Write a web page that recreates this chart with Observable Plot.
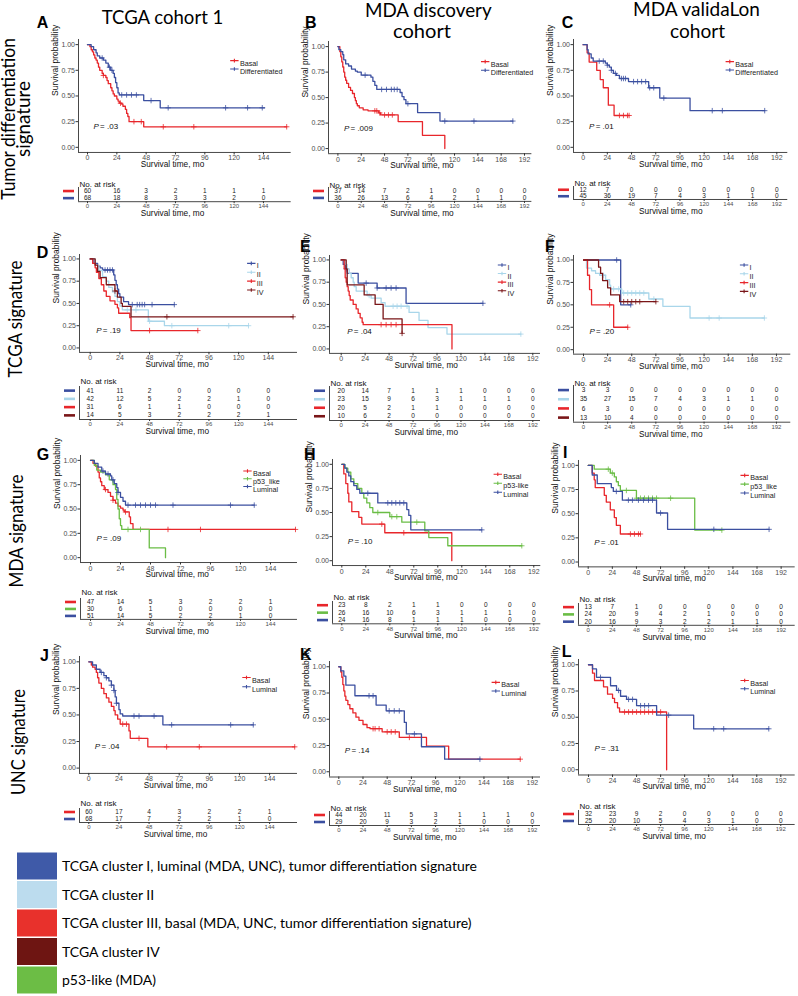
<!DOCTYPE html>
<html><head><meta charset="utf-8">
<script src="https://cdn.jsdelivr.net/npm/d3@7"></script>
<script src="https://cdn.jsdelivr.net/npm/@observablehq/plot@0.6"></script>
<style>
body{margin:0;background:#fff}
#root{position:relative;width:798px;height:996px;overflow:hidden;background:#fff}
#root svg{position:absolute}
</style></head><body><div id="root"></div>
<script>
// ---------- colours ----------
const BLUE="#3b4fa0", LBLUE="#a9d6ea", RED="#e8262b", DRED="#7a1618", GREEN="#6abd45";
const AX="#333", TX="#4d4d4d";
const FONT="'Liberation Sans', Arial, sans-serif";

// ---------- data: KM step curves [time, survival] and censor times ----------
const A_basal=[[0,1],[2,.98],[3,.95],[4,.93],[5,.90],[6,.87],[7,.85],[8,.82],[9,.78],[10,.75],[12,.72],[13,.70],[15,.68],[16,.65],[17,.62],[19,.58],[20,.55],[21,.52],[22,.50],[24,.47],[25,.45],[26,.43],[28,.42],[29,.40],[31,.37],[32,.33],[33,.30],[34,.25],[46,.20],[163,.20]];
const A_basal_cens=[13,27,38,44,62,87,163];
const A_diff=[[0,1],[3,.98],[5,.95],[7,.92],[8,.89],[10,.87],[13,.85],[15,.82],[17,.78],[19,.75],[21,.72],[22,.68],[23,.63],[24,.58],[25,.53],[26,.51],[46,.455],[59.5,.385],[145,.385]];
const A_diff_cens=[12,18,20,28,32,36,40,52,66,113,131,143];

const B_basal=[[0,1],[2,.95],[3,.90],[4,.85],[5,.80],[6,.75],[7,.70],[8,.67],[9,.64],[11,.60],[13,.57],[15,.54],[17,.50],[18,.47],[19,.44],[20,.42],[22,.40],[26,.38],[31,.37],[42,.35],[44,.33],[62,.265],[87,.13],[110,0]];
const B_basal_cens=[38,40,43,48,52,56];
const B_diff=[[0,1],[1,.97],[3,.95],[5,.92],[6,.87],[8,.83],[11,.81],[14,.78],[18,.76],[20,.75],[24,.72],[34,.70],[36,.66],[38,.62],[40,.58],[64,.55],[66,.51],[68,.48],[70,.44],[82,.353],[105,.27],[180,.27]];
const B_diff_cens=[28,45,50,55,58,61,72,110,140,180];

const C_basal=[[0,1],[4,.92],[6,.83],[13.5,.75],[17,.66],[20,.58],[25,.41],[30.7,.31],[45.6,.31]];
const C_basal_cens=[36,40,44,45.6];
const C_diff=[[0,1],[4,.95],[5,.91],[8,.87],[10,.84],[22,.82],[24,.80],[26,.78],[28,.75],[30,.72],[33,.70],[36,.67],[45,.64],[65,.58],[76,.48],[106,.357],[180,.357]];
const C_diff_cens=[16,20,24,28,32,38,40,42,50,54,58,62,66,70,80,128,138,180];

const D_I=[[0,1],[3,.95],[6,.92],[8,.90],[10,.876],[19,.82],[20,.76],[21,.71],[22,.66],[23,.61],[24,.57],[27,.52],[31,.487],[68,.487]];
const D_I_cens=[12,14,16,18,34,38,40,42,44,50,68];
const D_II=[[0,1],[4,.93],[7,.87],[10,.80],[13,.75],[15,.68],[18,.63],[20,.58],[22,.52],[24,.47],[26,.427],[47,.30],[60,.25],[128,.25]];
const D_II_cens=[30,37,48,66,112,128];
const D_III=[[0,1],[2,.95],[4,.90],[5,.85],[7,.78],[9,.71],[11,.64],[13,.58],[16,.53],[20,.49],[22,.45],[23,.39],[32,.34],[33,.195],[87,.195]];
const D_III_cens=[48,87];
const D_IV=[[0,1],[4,.93],[6,.86],[8,.79],[13,.71],[20,.64],[22,.57],[25,.50],[26,.468],[33,.35],[164,.35]];
const D_IV_cens=[20,62,164];

const E_I=[[0,1],[2,.95],[4,.90],[6,.85],[17,.74],[36,.685],[65,.513],[142,.513]];
const E_I_cens=[5,25,36,45,50,55,142];
const E_II=[[0,1],[4,.95],[6,.90],[8,.85],[10,.80],[12,.75],[13,.70],[15,.65],[26,.60],[30,.57],[40,.52],[44,.48],[68,.41],[78,.32],[87,.24],[106,.167],[180,.167]];
const E_II_cens=[28,52,56,60,66,180];
const E_III=[[0,1],[3,.90],[4,.80],[5,.75],[6,.70],[7,.65],[8,.60],[9,.55],[12,.50],[15,.45],[17,.40],[19,.35],[21,.30],[22,.273],[111,0]];
const E_III_cens=[40,45,50,55];
const E_IV=[[0,1],[5,.90],[6,.72],[23,.607],[34,.50],[42,.337],[61,.175]];
const E_IV_cens=[61];

const F_I=[[0,1],[37,.50],[47,.50]];
const F_I_cens=[33,47];
const F_II=[[0,1],[3,.91],[8,.88],[12,.85],[16,.83],[22,.78],[26,.72],[27,.677],[38,.632],[65,.565],[79,.483],[106,.353],[180,.353]];
const F_II_cens=[20,30,35,40,44,48,52,56,60,70,125,135,180];
const F_III=[[0,1],[4,.83],[6,.67],[8,.50],[30,.25],[44,.25]];
const F_III_cens=[26,44];
const F_IV=[[0,1],[15,.92],[17,.85],[19,.77],[24,.69],[27,.61],[36,.535],[72,.535]];
const F_IV_cens=[40,44,48,52,56,72];

const G_basal=[[0,1],[2,.97],[4,.94],[6,.88],[7,.82],[8,.78],[9,.74],[11,.70],[14,.67],[16,.63],[18,.59],[20,.56],[22,.53],[24,.51],[26,.49],[27,.47],[31,.42],[32,.35],[34,.29],[164,.29]];
const G_basal_cens=[12,18,28,62,88,164];
const G_p53=[[0,1],[3,.95],[5,.90],[8,.88],[12,.85],[15,.80],[18,.75],[20,.70],[21,.60],[22,.50],[23,.40],[24,.33],[25,.29],[47,.10],[60,0]];
const G_p53_cens=[30,40];
const G_lum=[[0,1],[3,.97],[6,.93],[9,.89],[12,.86],[16,.84],[17,.80],[19,.76],[21,.72],[22,.67],[24,.62],[26,.58],[28,.54],[131,.54]];
const G_lum_cens=[10,14,18,22,30,36,40,44,48,52,66,112,131];

const H_basal=[[0,1],[2,.90],[4,.80],[6,.70],[7,.61],[10,.51],[17,.45],[20,.38],[43,.29],[110,0]];
const H_basal_cens=[40,62];
const H_p53=[[0,1],[3,.96],[6,.92],[9,.85],[12,.80],[16,.75],[20,.70],[22,.65],[25,.60],[28,.55],[31,.50],[48,.457],[60,.40],[83,.31],[87,.24],[106,.155],[180,.155]];
const H_p53_cens=[36,50,55,75,180];
const H_lum=[[0,1],[3,.96],[5,.92],[7,.88],[9,.82],[12,.78],[15,.74],[18,.70],[36,.60],[65,.53],[67,.47],[69,.32],[140,.32]];
const H_lum_cens=[26,46,50,54,58,62,140];

const I_basal=[[0,1],[4,.92],[6,.85],[7,.77],[16,.69],[18,.62],[22,.54],[26,.46],[28,.38],[32,.29],[52,.29]];
const I_basal_cens=[42,46,50,52];
const I_p53=[[0,1],[6,.96],[22,.92],[26,.88],[28,.83],[30,.79],[32,.74],[48,.66],[106,.33],[133,.33]];
const I_p53_cens=[20,24,38,48,52,56,60,64,68,82,133];
const I_lum=[[0,1],[4,.90],[9,.81],[23,.77],[25,.73],[34,.64],[68,.507],[79,.338],[180,.338]];
const I_lum_cens=[28,40,44,50,55,60,64,72,125,180];

const J_basal=[[0,1],[2,.97],[3,.95],[5,.93],[6,.90],[7,.85],[8,.80],[10,.75],[12,.70],[14,.66],[16,.62],[18,.58],[20,.54],[21,.50],[23,.46],[25,.414],[32,.35],[33,.28],[47,.20],[164,.20]];
const J_basal_cens=[27,30,40,62,88,164];
const J_lum=[[0,1],[3,.97],[6,.93],[9,.90],[12,.87],[14,.85],[16,.82],[18,.78],[20,.73],[21,.67],[22,.61],[24,.55],[25,.51],[27,.49],[59,.407],[131,.407]];
const J_lum_cens=[10,14,18,20,22,36,40,52,66,113,131];

const K_basal=[[0,1],[2,.95],[3,.90],[4,.83],[5,.77],[6,.72],[7,.68],[9,.64],[11,.60],[14,.56],[17,.52],[20,.49],[24,.45],[28,.42],[31,.41],[43,.38],[60,.327],[87,.245],[109,.12],[180,.12]];
const K_basal_cens=[34,36,40,48,52,56,70,180];
const K_lum=[[0,1],[2,.96],[5,.91],[7,.825],[16,.724],[37,.635],[47,.58],[65,.47],[67,.36],[82,.238],[105,.12],[140,.12]];
const K_lum_cens=[30,34,50,55,60,75,140];

const L_basal=[[0,1],[4,.92],[6,.85],[15,.79],[19,.72],[24,.68],[26,.64],[29,.59],[31,.55],[78,0]];
const L_basal_cens=[36,40,44,48,52,56,60,64,68,72];
const L_lum=[[0,1],[4,.96],[8,.88],[22,.80],[28,.755],[32,.70],[38,.67],[48,.61],[68,.52],[105,.39],[180,.39]];
const L_lum_cens=[12,30,40,44,52,56,60,80,125,135,180];

// ---------- risk tables ----------
const A_risk=[[60,16,3,2,1,1,1],[68,18,8,3,3,2,0]];
const B_risk=[[37,14,7,2,1,0,0,0,0],[36,26,13,6,4,2,1,1,0]];
const C_risk=[[12,7,0,0,0,0,0,0,0],[45,36,19,7,4,3,1,1,0]];
const D_risk=[[41,11,2,0,0,0,0],[42,12,5,2,2,1,0],[31,6,1,1,0,0,0],[14,5,3,2,2,2,1]];
const E_risk=[[20,14,7,1,1,1,0,0,0],[23,15,9,6,3,1,1,1,0],[20,5,2,1,1,0,0,0,0],[10,6,2,0,0,0,0,0,0]];
const F_risk=[[3,3,0,0,0,0,0,0,0],[35,27,15,7,4,3,1,1,0],[6,3,0,0,0,0,0,0,0],[13,10,4,0,0,0,0,0,0]];
const G_risk=[[47,14,5,3,2,2,1],[30,6,1,0,0,0,0],[51,14,5,2,2,1,0]];
const H_risk=[[23,8,2,1,1,0,0,0,0],[26,16,10,6,3,1,1,1,0],[24,16,8,1,1,1,0,0,0]];
const I_risk=[[13,7,1,0,0,0,0,0,0],[24,20,9,4,2,1,0,0,0],[20,16,9,3,2,2,1,1,0]];
const J_risk=[[60,17,4,3,2,2,1],[68,17,7,2,2,1,0]];
const K_risk=[[44,20,11,5,3,1,1,1,0],[29,20,9,3,2,1,0,0,0]];
const L_risk=[[32,23,9,2,0,0,0,0,0],[25,20,10,5,4,3,1,0,0]];

// ---------- labels ----------
const pvals={A:".03",B:".009",C:".01",D:".19",E:".04",F:".20",G:".09",H:".10",I:".01",J:".04",K:".14",L:".31"};
const colTitles=[["TCGA cohort 1"],["MDA discovery","cohort"],["MDA validaLon","cohort"]];
const rowTitles=[["Tumor differentiation","signature"],["TCGA signature"],["MDA signature"],["UNC signature"]];
const legendItems=["TCGA cluster I, luminal (MDA, UNC), tumor differentiation signature","TCGA cluster II","TCGA cluster III, basal (MDA, UNC, tumor differentiation signature)","TCGA cluster IV","p53-like (MDA)"];
const legendColors=["#3f5aa8","#bcdcee","#e8312c","#6e1512","#6cbd45"];
const Y_TICKS=[0,0.25,0.5,0.75,1];

// ---------- layout (pixel geometry of each panel) ----------
const P=[
 {id:"A",L:78.3,x0:87.3,k:1.2222,yTop:44,yBot:146.7,R:291,tmax:144,titleX:172.3,
  curves:[["Basal",A_basal,A_basal_cens,RED],["Differentiated",A_diff,A_diff_cens,BLUE]],
  leg:{x:234.2,y:60,s:8.3}, tab:{top:186.5,bot:200.7,nr:180,risk:A_risk}, letter:[36.7,28.3]},
 {id:"B",L:328.3,x0:337.7,k:0.972,yTop:45.7,yBot:147.7,R:531.7,tmax:192,titleX:421.7,
  curves:[["Basal",B_basal,B_basal_cens,RED],["Differentiated",B_diff,B_diff_cens,BLUE]],
  leg:{x:485,y:60.7,s:8.6}, tab:{top:186.6,bot:200.5,nr:181.7,risk:B_risk}, letter:[305,28.3]},
 {id:"C",L:572.7,x0:582.3,k:1.009,yTop:44,yBot:146.7,R:787,tmax:192,titleX:670,
  curves:[["Basal",C_basal,C_basal_cens,RED],["Differentiated",C_diff,C_diff_cens,BLUE]],
  leg:{x:729,y:61,s:8.3}, tab:{top:186,bot:199,nr:180,risk:C_risk}, letter:[561.7,28.3]},
 {id:"D",L:79,x0:89.7,k:1.237,yTop:258.3,yBot:347.3,R:297,tmax:144,titleX:176.7,
  curves:[["I",D_I,D_I_cens,BLUE],["II",D_II,D_II_cens,LBLUE],["III",D_III,D_III_cens,RED],["IV",D_IV,D_IV_cens,DRED]],
  leg:{x:250.8,y:262.7,s:8.9}, tab:{top:386,bot:419,nr:378.3,risk:D_risk}, letter:[36.7,258.3]},
 {id:"E",L:329,x0:340.7,k:0.998,yTop:259.3,yBot:348.3,R:540,tmax:192,titleX:425.7,
  curves:[["I",E_I,E_I_cens,BLUE],["II",E_II,E_II_cens,LBLUE],["III",E_III,E_III_cens,RED],["IV",E_IV,E_IV_cens,DRED]],
  leg:{x:501.5,y:264.3,s:8.6}, tab:{top:386,bot:420,nr:380,risk:E_risk}, letter:[300,251.7]},
 {id:"F",L:572.7,x0:582.7,k:1.005,yTop:259.3,yBot:349,R:790,tmax:192,titleX:670,
  curves:[["I",F_I,F_I_cens,BLUE],["II",F_II,F_II_cens,LBLUE],["III",F_III,F_III_cens,RED],["IV",F_IV,F_IV_cens,DRED]],
  leg:{x:743.3,y:264.3,s:8.8}, tab:{top:385,bot:421.7,nr:380,risk:F_risk}, letter:[545,251.7]},
 {id:"G",L:80,x0:90,k:1.25,yTop:460,yBot:557.3,R:297,tmax:144,titleX:176.7,
  curves:[["Basal",G_basal,G_basal_cens,RED],["p53_like",G_p53,G_p53_cens,GREEN],["Luminal",G_lum,G_lum_cens,BLUE]],
  leg:{x:247,y:470.7,s:7.7}, tab:{top:598.4,bot:619.3,nr:589,risk:G_risk}, letter:[36.7,460]},
 {id:"H",L:331.7,x0:341,k:1.0,yTop:464.3,yBot:560.7,R:540,tmax:192,titleX:425,
  curves:[["Basal",H_basal,H_basal_cens,RED],["p53-like",H_p53,H_p53_cens,GREEN],["Luminal",H_lum,H_lum_cens,BLUE]],
  leg:{x:497,y:474.3,s:9}, tab:{top:601.2,bot:623.5,nr:594,risk:H_risk}, letter:[304,460]},
 {id:"I",L:578.3,x0:588,k:1.005,yTop:465,yBot:561.7,R:795,tmax:192,titleX:674,
  curves:[["Basal",I_basal,I_basal_cens,RED],["p53_like",I_p53,I_p53_cens,GREEN],["Luminal",I_lum,I_lum_cens,BLUE]],
  leg:{x:744.5,y:475,s:8.8}, tab:{top:602.5,bot:624.3,nr:595,risk:I_risk}, letter:[563,458]},
 {id:"J",L:79,x0:88.3,k:1.2556,yTop:661,yBot:767.3,R:297,tmax:144,titleX:175,
  curves:[["Basal",J_basal,J_basal_cens,RED],["Luminal",J_lum,J_lum_cens,BLUE]],
  leg:{x:246,y:676.7,s:9.3}, tab:{top:808,bot:822,nr:800,risk:J_risk}, letter:[40,661]},
 {id:"K",L:329,x0:338.3,k:1.008,yTop:666.7,yBot:771.7,R:540,tmax:192,titleX:424.3,
  curves:[["Basal",K_basal,K_basal_cens,RED],["Luminal",K_lum,K_lum_cens,BLUE]],
  leg:{x:495.3,y:682.3,s:8.7}, tab:{top:811,bot:825,nr:805,risk:K_risk}, letter:[300,660]},
 {id:"L",L:578.3,x0:588.3,k:1.0017,yTop:664.3,yBot:769.3,R:795,tmax:192,titleX:674,
  curves:[["Basal",L_basal,L_basal_cens,RED],["Luminal",L_lum,L_lum_cens,BLUE]],
  leg:{x:744.5,y:680,s:8.3}, tab:{top:810,bot:824,nr:803,risk:L_risk}, letter:[561.7,656.7]}
];

const root=document.getElementById("root");
function survAt(curve,t){let s=1;for(const [ti,si] of curve){if(ti<=t)s=si;else break;}return s;}
const LEG_SYM={draw(c){c.moveTo(-4.2,0);c.lineTo(4.2,0);c.moveTo(0,-1.8);c.lineTo(0,1.8);}};
const BAR_SYM={draw(c){c.rect(-5.5,-1.3,11,2.6);}};
const ML=64,MR=8;
function place(svg,left,top){svg.style.left=left+"px";svg.style.top=top+"px";root.appendChild(svg);}

function kmPlot(p){
  const MT=8,MB=24;
  const u=p.yBot-p.yTop, fTop=p.yTop-0.05*u, fBot=p.yBot+0.05*u;
  const xlo=(p.L-p.x0)/p.k, xhi=(p.R-p.x0)/p.k;
  const ticks=d3.range(0,p.tmax+1,24);
  const marks=[
    Plot.ruleX([xlo],{y1:-0.05,y2:1.05,stroke:AX,strokeWidth:0.9}),
    Plot.ruleY([-0.05],{x1:xlo,x2:xhi,stroke:AX,strokeWidth:0.9}),
    Plot.axisY({ticks:Y_TICKS,tickFormat:d3.format(".2f"),tickSize:2.5,tickPadding:1,fontSize:7,label:null,stroke:AX,fill:TX}),
    Plot.axisX({ticks,tickSize:2.5,tickPadding:0.5,fontSize:7,label:null,stroke:AX,fill:TX}),
    Plot.text(["Survival probability"],{frameAnchor:"left",rotate:-90,dx:-23.3,fontSize:8.5,fill:"#111"}),
    Plot.text(["Survival time, mo"],{frameAnchor:"bottom",dx:p.titleX-(p.L+p.R)/2,dy:14.5,fontSize:8.3,fill:"#111"}),
    Plot.text(["P"],{x:0,y:0.2,dx:6,textAnchor:"start",fontStyle:"italic",fontSize:8,fill:"#111"}),
    Plot.text(["= "+pvals[p.id]],{x:0,y:0.2,dx:12.6,textAnchor:"start",fontSize:8,fill:"#111"})
  ];
  for(const [name,data,cens,col] of p.curves){
    marks.push(Plot.line(data,{x:d=>d[0],y:d=>d[1],curve:"step-after",stroke:col,strokeWidth:1.3}));
    marks.push(Plot.dot(cens,{x:d=>d,y:d=>survAt(data,d),symbol:"plus",stroke:col,strokeWidth:0.8,r:1.9}));
  }
  p.curves.forEach(([name,,,col],i)=>{
    const dy=p.leg.y+i*p.leg.s-fTop;
    marks.push(Plot.dot([name],{frameAnchor:"top-left",dx:p.leg.x-p.L,dy,symbol:LEG_SYM,stroke:col,fill:"none",strokeWidth:1.1}));
    marks.push(Plot.text([name],{frameAnchor:"top-left",dx:p.leg.x-p.L+5.5,dy,textAnchor:"start",fontSize:7.2,fill:"#222"}));
  });
  const svg=Plot.plot({width:ML+(p.R-p.L)+MR,height:MT+(fBot-fTop)+MB,marginLeft:ML,marginRight:MR,marginTop:MT,marginBottom:MB,
    x:{domain:[xlo,xhi]},y:{domain:[-0.05,1.05]},
    style:{background:"transparent",fontFamily:FONT,overflow:"visible"},marks});
  place(svg,p.L-ML,fTop-MT);
}

function riskTable(p){
  const t=p.tab, n=t.risk.length, MT=16, MB=22;
  const xlo=(p.L-p.x0)/p.k, xhi=(p.R-p.x0)/p.k;
  const ticks=d3.range(0,p.tmax+1,24);
  const cells=[];
  t.risk.forEach((row,i)=>row.forEach((v,j)=>cells.push({x:ticks[j],y:i,v})));
  const marks=[
    Plot.ruleX([xlo],{y1:-0.5,y2:n-0.5,stroke:AX,strokeWidth:0.9}),
    Plot.ruleY([n-0.5],{x1:xlo,x2:xhi,stroke:AX,strokeWidth:0.9}),
    Plot.axisX({ticks,tickSize:2,tickPadding:0.5,fontSize:6,label:null,stroke:AX,fill:TX}),
    Plot.text(cells,{x:"x",y:"y",text:d=>String(d.v),fontSize:6.5,fill:"#222"}),
    Plot.text(["No. at risk"],{frameAnchor:"top-left",dx:1,dy:t.nr-t.top,textAnchor:"start",fontSize:8,fill:"#111"}),
    Plot.text(["Survival time, mo"],{frameAnchor:"bottom",dx:p.titleX-(p.L+p.R)/2,dy:14.5,fontSize:8.3,fill:"#111"})
  ];
  p.curves.forEach(([,,,col],i)=>marks.push(Plot.dot([i],{y:d=>d,frameAnchor:"left",dx:-10,symbol:BAR_SYM,fill:col,stroke:"none"})));
  const svg=Plot.plot({width:ML+(p.R-p.L)+MR,height:MT+(t.bot-t.top)+MB,marginLeft:ML,marginRight:MR,marginTop:MT,marginBottom:MB,
    x:{domain:[xlo,xhi]},y:{domain:[n-0.5,-0.5],axis:null},
    style:{background:"transparent",fontFamily:FONT,overflow:"visible"},marks});
  place(svg,p.L-ML,t.top-MT);
}

// ---------- overlay: titles, row labels, letters, bottom legend ----------
const ov=d3.create("svg").attr("width",798).attr("height",996).style("left","0px").style("top","0px");
const LF="Lato, 'Open Sans', sans-serif";
function otext(s,x,y,o={}){
  const e=ov.append("text").attr("x",x).attr("y",y).text(s).attr("font-family",o.ff||LF).attr("font-size",o.fs||20)
   .attr("text-anchor",o.anchor||"middle").attr("fill",o.fill||"#000");
  if(o.len){e.attr("textLength",o.len).attr("lengthAdjust","spacingAndGlyphs");}
  if(o.rot){e.attr("transform",`rotate(-90 ${x} ${y})`);}
  if(o.fw)e.attr("font-weight",o.fw);
  return e;
}
otext(colTitles[0][0],162.5,24.3,{len:121.7});
otext(colTitles[1][0],428.3,16.7,{len:126.7});
otext(colTitles[1][1],422,38.3,{len:58});
otext(colTitles[2][0],696.5,16.2,{len:127});
otext(colTitles[2][1],697.5,38.3,{len:55});
otext(rowTitles[0][0],15.2,119,{rot:true,fs:18.4,len:161.7});
otext(rowTitles[0][1],30,119,{rot:true,fs:18.4,len:76});
otext(rowTitles[1][0],22,319,{rot:true,fs:18.4,len:117});
otext(rowTitles[2][0],23,531,{rot:true,fs:18.4,len:113});
otext(rowTitles[3][0],25,742,{rot:true,fs:18.4,len:106});
for(const p of P) otext(p.id,p.letter[0],p.letter[1],{ff:"'Liberation Sans', Arial, sans-serif",fs:16,fw:"bold",anchor:"start"});
legendItems.forEach((s,i)=>{
  const cy=866+i*28.5;
  ov.append("rect").attr("x",17).attr("y",cy-13.5).attr("width",40).attr("height",27).attr("fill",legendColors[i]);
  otext(s,62,cy+5,{fs:14,anchor:"start"});
});
root.appendChild(ov.node());

for(const p of P){kmPlot(p);riskTable(p);}
</script></body></html>
